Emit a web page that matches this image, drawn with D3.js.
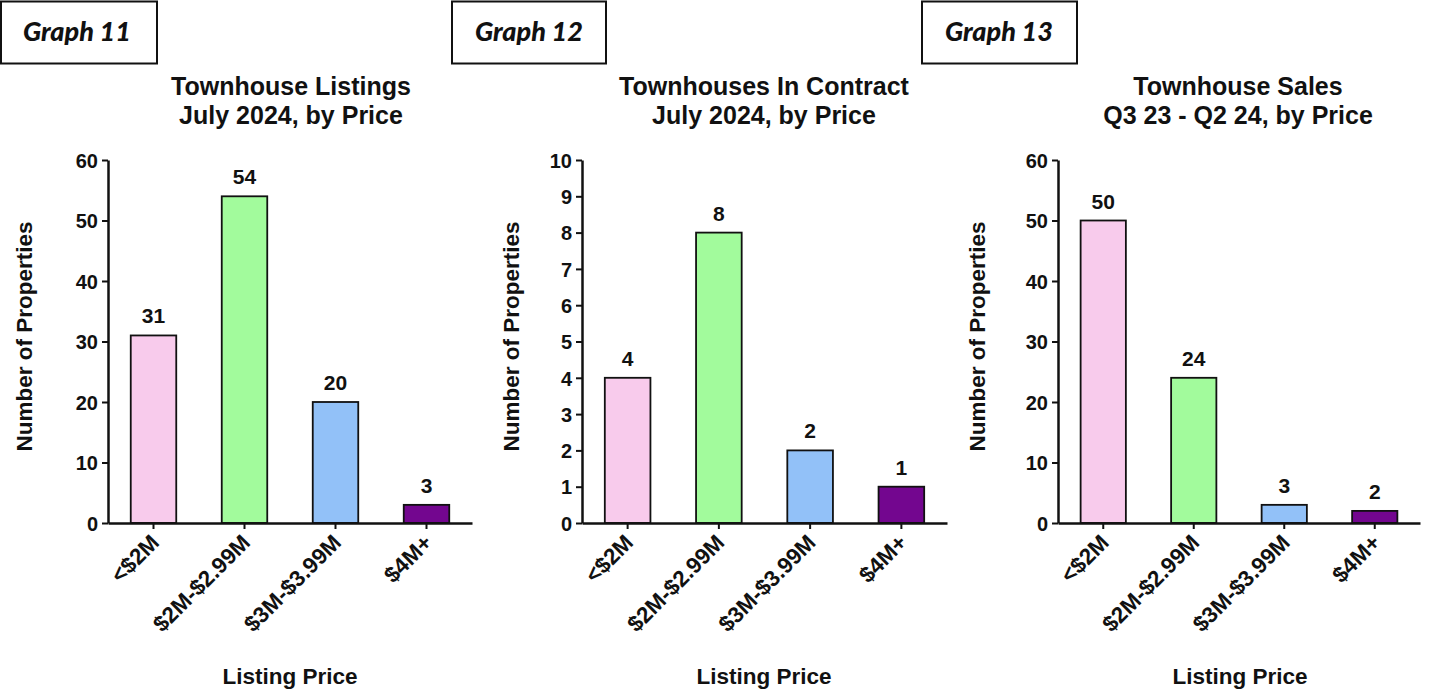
<!DOCTYPE html>
<html>
<head>
<meta charset="utf-8">
<script src="https://cdn.jsdelivr.net/npm/d3@7"></script>
<style>
  html, body { margin: 0; padding: 0; background: #fff; }
  svg { display: block; }
  .lbl { font-family: "Liberation Sans", Arial, sans-serif; font-weight: bold; fill: #111; }
  .tag { font-family: Lato, "Open Sans", sans-serif; font-weight: 900; font-style: italic; fill: #111; }
</style>
</head>
<body>
<svg id="chart" width="1429" height="692"></svg>
<script>
// Price brackets shared by all three charts
const categories = ["<$2M", "$2M-$2.99M", "$3M-$3.99M", "$4M+"];
const barColors = ["#f8cbec", "#a2fb9c", "#92c1f8", "#73068f"];

// Graph 11: townhouse listings, July 2024
const listingsValues = [31, 54, 20, 3];
const listingsTicks = [0, 10, 20, 30, 40, 50, 60];

// Graph 12: townhouses in contract, July 2024
const contractValues = [4, 8, 2, 1];
const contractTicks = [0, 1, 2, 3, 4, 5, 6, 7, 8, 9, 10];

// Graph 13: townhouse sales, Q3 23 - Q2 24
const salesValues = [50, 24, 3, 2];
const salesTicks = [0, 10, 20, 30, 40, 50, 60];

const panels = [
  { tag: "Graph 11", title: ["Townhouse Listings", "July 2024, by Price"],
    values: listingsValues, ticks: listingsTicks,
    box: [1, 157], tagX: 23, left: 108, right: 472, titleX: 291, yLabelX: 24, xLabelX: 290 },
  { tag: "Graph 12", title: ["Townhouses In Contract", "July 2024, by Price"],
    values: contractValues, ticks: contractTicks,
    box: [452, 606], tagX: 475, left: 582, right: 947, titleX: 764, yLabelX: 511, xLabelX: 764 },
  { tag: "Graph 13", title: ["Townhouse Sales", "Q3 23 - Q2 24, by Price"],
    values: salesValues, ticks: salesTicks,
    box: [922, 1077], tagX: 945, left: 1058, right: 1420, titleX: 1238, yLabelX: 977, xLabelX: 1240 }
];

const svg = d3.select("#chart");
const plotTop = 160, plotBottom = 523;

panels.forEach(p => {
  const g = svg.append("g");

  // Graph number box
  g.append("rect")
    .attr("x", p.box[0]).attr("y", 1.5)
    .attr("width", p.box[1] - p.box[0]).attr("height", 62)
    .attr("fill", "#fff").attr("stroke", "#111").attr("stroke-width", 2);
  g.append("text").attr("class", "tag")
    .attr("x", p.tagX).attr("y", 41)
    .style("font-size", "27px")
    .text(p.tag);

  // Title
  p.title.forEach((line, i) => {
    g.append("text").attr("class", "lbl")
      .attr("x", p.titleX).attr("y", 95 + i * 29)
      .attr("text-anchor", "middle")
      .style("font-size", "25px")
      .text(line);
  });

  const x = d3.scaleBand()
    .domain(categories)
    .range([p.left, p.right])
    .paddingInner(0.5)
    .paddingOuter(0.25);

  const y = d3.scaleLinear()
    .domain([0, d3.max(p.ticks)])
    .range([plotBottom, plotTop]);

  // Bars
  g.selectAll("rect.bar")
    .data(p.values)
    .join("rect")
    .attr("class", "bar")
    .attr("x", (d, i) => x(categories[i]))
    .attr("y", d => y(d))
    .attr("width", x.bandwidth())
    .attr("height", d => y(0) - y(d))
    .attr("fill", (d, i) => barColors[i])
    .attr("stroke", "#111")
    .attr("stroke-width", 1.8);

  // Value labels
  g.selectAll("text.val")
    .data(p.values)
    .join("text")
    .attr("class", "lbl val")
    .attr("x", (d, i) => x(categories[i]) + x.bandwidth() / 2)
    .attr("y", d => y(d) - 12)
    .attr("text-anchor", "middle")
    .style("font-size", "21px")
    .text(d => d);

  // Y axis
  const yAxis = g.append("g")
    .attr("transform", `translate(${p.left},0)`)
    .call(d3.axisLeft(y).tickValues(p.ticks).tickSize(6).tickPadding(4).tickSizeOuter(0));
  yAxis.select(".domain").attr("stroke", "#111").attr("stroke-width", 2.5);
  yAxis.selectAll(".tick line").attr("stroke", "#111").attr("stroke-width", 2);
  yAxis.selectAll(".tick text")
    .attr("class", "lbl")
    .style("font-size", "20px")
    .attr("dy", "0.36em");

  // X axis with slanted category labels
  const xAxis = g.append("g")
    .attr("transform", `translate(0,${plotBottom})`)
    .call(d3.axisBottom(x).tickSize(6).tickSizeOuter(0));
  xAxis.select(".domain").attr("stroke", "#111").attr("stroke-width", 2.5);
  xAxis.selectAll(".tick line").attr("stroke", "#111").attr("stroke-width", 2);
  xAxis.selectAll(".tick text")
    .attr("class", "lbl")
    .style("font-size", "22.5px")
    .attr("text-anchor", "end")
    .attr("x", 0).attr("y", 0).attr("dy", 0)
    .attr("transform", "translate(7,21) rotate(-45)");

  // Axis titles
  g.append("text").attr("class", "lbl")
    .attr("transform", `translate(${p.yLabelX + 8},${(plotTop + plotBottom) / 2 - 5}) rotate(-90)`)
    .attr("text-anchor", "middle")
    .style("font-size", "22.5px")
    .text("Number of Properties");

  g.append("text").attr("class", "lbl")
    .attr("x", p.xLabelX).attr("y", 684)
    .attr("text-anchor", "middle")
    .style("font-size", "22.5px")
    .text("Listing Price");
});
</script>
</body>
</html>
